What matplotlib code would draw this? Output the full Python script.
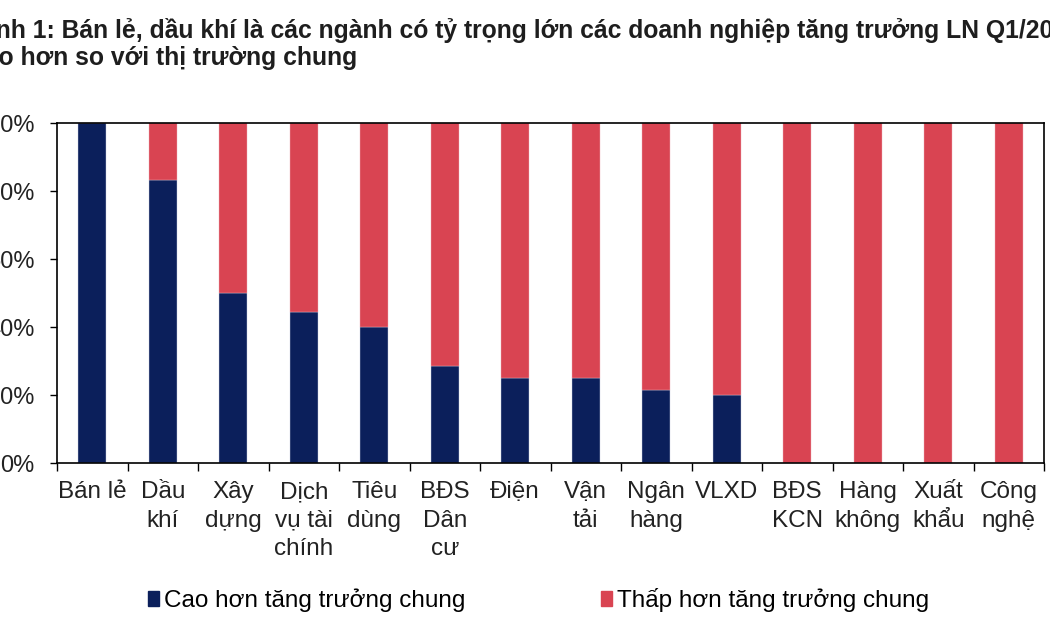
import matplotlib
matplotlib.use("Agg")
import matplotlib.pyplot as plt
from matplotlib.patches import Patch

plt.rcParams['font.family'] = ['Liberation Sans', 'DejaVu Sans']

categories = ["Bán lẻ", "Dầu\nkhí", "Xây\ndựng", "Dịch\nvụ tài\nchính", "Tiêu\ndùng",
              "BĐS\nDân\ncư", "Điện", "Vận\ntải", "Ngân\nhàng", "VLXD", "BĐS\nKCN",
              "Hàng\nkhông", "Xuất\nkhẩu", "Công\nnghệ"]
higher = [100, 83.3, 50, 44.4, 40, 28.6, 25, 25, 21.4, 20, 0, 0, 0, 0]
lower = [100 - v for v in higher]
series_names = ["Cao hơn tăng trưởng chung", "Thấp hơn tăng trưởng chung"]
yticks = [0, 20, 40, 60, 80, 100]
title = ("Hình 1: Bán lẻ, dầu khí là các ngành có tỷ trọng lớn các doanh nghiệp tăng trưởng LN Q1/2023\n"
         "cao hơn so với thị trường chung")

navy = "#0B1F5B"
red = "#D94452"

fig = plt.figure(figsize=(10.5, 6.3), dpi=100)
ax = fig.add_axes([57/1050, 1 - 463/630, (1044-57)/1050, (463-123)/630])

x = list(range(len(categories)))
ax.bar(x, higher, width=0.4, color=navy, edgecolor="#c8cde0", linewidth=0.3)
ax.bar(x, lower, width=0.4, bottom=higher, color=red, edgecolor="#f0b0b8", linewidth=0.3)

ax.set_xlim(-0.5, len(categories) - 0.5)
ax.set_ylim(0, 100)
ax.set_yticks(yticks)
ax.set_yticklabels([f"{v}%" for v in yticks], fontsize=17, color="#222222")
ax.tick_params(axis='y', direction='out', length=5, width=1, pad=11)

ax.set_xticks([i - 0.5 for i in range(len(categories) + 1)])
ax.set_xticklabels([])
ax.tick_params(axis='x', which='major', direction='out', length=6, width=1)
ax.set_xticks(x, minor=True)
ax.set_xticklabels(categories, minor=True, fontsize=17.5, color="#222222", linespacing=1.38)
ax.tick_params(axis='x', which='minor', length=0, pad=13)

for s in ax.spines.values():
    s.set_linewidth(1.2)
    s.set_color("black")

fig.text(-29/1050, 1 - 18/630, title, fontsize=17.8, fontweight='bold', va='top', ha='left',
         color="#1e1e1e", linespacing=1.17)

handles = [Patch(facecolor=navy, edgecolor=navy), Patch(facecolor=red, edgecolor=red)]
fig.legend(handles, series_names, loc='center left', bbox_to_anchor=(148/1050, 1 - 600/630),
           ncol=2, frameon=False, fontsize=17.5, handlelength=0.45, handleheight=0.55,
           handletextpad=0.2, columnspacing=5.6, borderaxespad=0, borderpad=0)

fig.savefig("out.png", dpi=100)
